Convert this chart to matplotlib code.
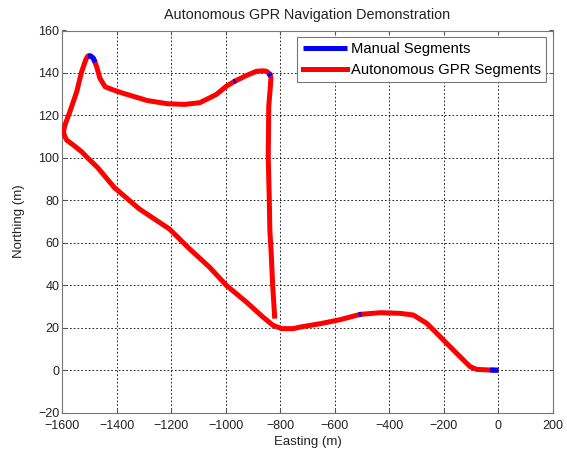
import numpy as np
import matplotlib.pyplot as plt
import matplotlib as mpl

mpl.rcParams.update({'font.size': 9, 'font.family': ['Liberation Sans', 'DejaVu Sans']})

# full track (m), autonomous path
easting = [-820, -828, -833, -838, -840, -842, -844, -843, -842, -836, -834, -838,
           -850, -863, -887, -924, -967, -997, -1034, -1071, -1095, -1150, -1213,
           -1287, -1375, -1412, -1442, -1461, -1473, -1485, -1495, -1505, -1512,
           -1528, -1546, -1571, -1589, -1595, -1589, -1583, -1559, -1528, -1506,
           -1469, -1408, -1316, -1206, -1132, -1059, -997, -924, -863, -826, -795,
           -752, -728, -654, -581, -507, -434, -361, -312, -263, -226, -190, -141,
           -104, -80, -31, 0]
northing = [24.3, 40.7, 55, 65.7, 80, 90, 101, 112, 124.4, 133.8, 137.7, 139.5,
            140.8, 141, 140.8, 138.8, 136.1, 133.8, 129.9, 127.5, 126, 125.2, 125.5,
            127, 130.4, 132, 133.5, 137.5, 143, 146.9, 148, 148, 146.5,
            140.6, 131.2, 121.8, 115.5, 112.3, 110, 108.4, 106.1, 102.9, 100,
            95.4, 86, 75.9, 66.5, 57.1, 48.5, 39.9, 32.1, 25, 21.1, 19.6,
            19.6, 20.3, 21.9, 23.8, 26.3, 27.1, 26.8, 26, 22.1, 17.4, 12.7, 6.4,
            1.7, 0.4, 0.1, 0]

# manual segments
manual_e = [[-1478, -1485, -1495, -1505], [-970, -964], [-842, -835], [-512, -502], [-31, 0]]
manual_n = [[145, 146.9, 148, 148], [135.9, 136.3], [139.8, 138.5], [26.1, 26.4], [0.1, 0]]

fig = plt.figure(figsize=(5.67, 4.54), dpi=100)
ax = fig.add_axes([62 / 567, 1 - 412.7 / 454, (553 - 62) / 567, (412.7 - 30.5) / 454])

ax.plot(easting, northing, color='red', lw=3.6, solid_capstyle='butt',
        solid_joinstyle='round', zorder=3)
for i, (me, mn) in enumerate(zip(manual_e, manual_n)):
    ax.plot(me, mn, color='blue', lw=3.6, solid_capstyle='butt', solid_joinstyle='round',
            zorder=4, label='Manual Segments' if i == 0 else None)
ax.plot([], [], color='red', lw=3.6, label='Autonomous GPR Segments')

ax.set_xlim(-1600, 200)
ax.set_ylim(-20, 160)
ax.set_xticks(np.arange(-1600, 201, 200))
ax.set_yticks(np.arange(-20, 161, 20))
ax.grid(True, color='black', linestyle=(0, (2, 2.5)), linewidth=0.6)
ax.tick_params(direction='in', length=3, top=True, right=True, colors='#555555',
               labelcolor='#222222', labelsize=9)
ax.tick_params(axis='x', pad=5)
ax.tick_params(axis='y', pad=2)
for s in ax.spines.values():
    s.set_color('#777777')

ax.set_xlabel('Easting (m)', labelpad=3, color='#222222', fontsize=9.5)
ax.set_ylabel('Northing (m)', labelpad=9, color='#222222', fontsize=9.5)
ax.set_title('Autonomous GPR Navigation Demonstration', pad=8, color='#222222', fontsize=10.4)

leg = ax.legend(loc='upper right', fancybox=False, framealpha=1, edgecolor='#777777',
                handlelength=3.0, borderpad=0.35, labelspacing=0.45, handletextpad=0.3,
                borderaxespad=0.45, fontsize=10.6)
leg.get_frame().set_linewidth(0.8)

plt.savefig('out.png', dpi=100)
